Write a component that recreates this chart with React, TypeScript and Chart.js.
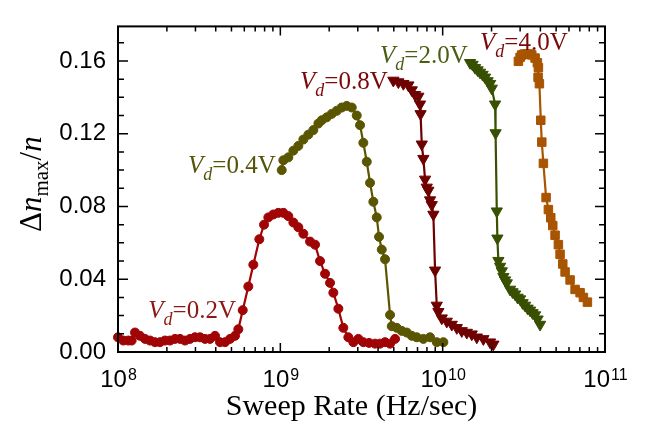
import React, { useEffect, useRef } from 'react';
import { Chart, registerables } from 'chart.js';

Chart.register(...registerables);

// ---- data (sweep rate in Hz/sec, Δn_max/n) ----
const rate02 = [1.0e8, 1.078e8, 1.157e8, 1.214e8, 1.273e8, 1.366e8, 1.467e8, 1.575e8, 1.69e8, 1.815e8, 1.948e8, 2.091e8, 2.245e8, 2.41e8, 2.587e8, 2.777e8, 2.981e8, 3.2e8, 3.436e8, 3.689e8, 3.96e8, 4.251e8, 4.564e8, 4.899e8, 5.259e8, 5.511e8, 5.865e8, 6.351e8, 6.818e8, 7.422e8, 7.937e8, 8.436e8, 9.055e8, 9.721e8, 1.044e9, 1.12e9, 1.203e9, 1.291e9, 1.386e9, 1.524e9, 1.636e9, 1.756e9, 1.886e9, 2.024e9, 2.121e9, 2.277e9, 2.444e9, 2.624e9, 2.817e9, 3.024e9, 3.246e9, 3.52e9, 3.832e9, 4.114e9, 4.416e9, 4.741e9, 5.09e9];
const dn02 = [0.0081, 0.0063, 0.0063, 0.0063, 0.0107, 0.0089, 0.0072, 0.0063, 0.0054, 0.0054, 0.0063, 0.0063, 0.0072, 0.0072, 0.0063, 0.0072, 0.0081, 0.0081, 0.0072, 0.0072, 0.0089, 0.0054, 0.0054, 0.0072, 0.0089, 0.0125, 0.023, 0.036, 0.048, 0.062, 0.07, 0.074, 0.0756, 0.0765, 0.0765, 0.0747, 0.0712, 0.0686, 0.065, 0.0607, 0.059, 0.05, 0.043, 0.038, 0.0326, 0.0238, 0.0133, 0.0081, 0.0054, 0.0072, 0.0054, 0.005, 0.0046, 0.0046, 0.0054, 0.0046, 0.0072];

const rate04 = [1.02e9, 1.044e9, 1.12e9, 1.203e9, 1.291e9, 1.386e9, 1.488e9, 1.597e9, 1.715e9, 1.799e9, 1.931e9, 2.073e9, 2.226e9, 2.389e9, 2.565e9, 2.754e9, 2.956e9, 3.098e9, 3.246e9, 3.407e9, 3.57e9, 3.741e9, 3.926e9, 4.056e9, 4.215e9, 4.416e9, 4.741e9, 4.857e9, 5.215e9, 5.598e9, 6.009e9, 6.451e9, 6.924e9, 7.604e9, 8.364e9, 9.197e9, 1.01e10];
const dn04 = [0.1, 0.1054, 0.107, 0.1107, 0.1133, 0.1168, 0.1195, 0.122, 0.1256, 0.1274, 0.129, 0.1309, 0.1326, 0.1344, 0.1353, 0.1344, 0.13, 0.1247, 0.115, 0.1046, 0.093, 0.0826, 0.074, 0.0633, 0.0563, 0.051, 0.0204, 0.0142, 0.0133, 0.0116, 0.0107, 0.0089, 0.0081, 0.0072, 0.0081, 0.0054, 0.0054];

const rate08 = [4.969e9, 5.335e9, 5.727e9, 6.148e9, 6.451e9, 6.76e9, 7.085e9, 7.256e9, 7.309e9, 7.435e9, 7.604e9, 7.79e9, 7.98e9, 8.163e9, 8.364e9, 8.566e9, 8.764e9, 8.978e9, 9.197e9, 9.408e9, 9.874e9, 1.06e10, 1.138e10, 1.222e10, 1.311e10, 1.408e10, 1.511e10, 1.623e10, 1.782e10, 1.959e10, 2.053e10];
const dn08 = [0.1493, 0.1484, 0.1475, 0.1467, 0.144, 0.1414, 0.1405, 0.1362, 0.1309, 0.1142, 0.1063, 0.0949, 0.0905, 0.0888, 0.0835, 0.0809, 0.0756, 0.0449, 0.0256, 0.0221, 0.0186, 0.0168, 0.0151, 0.0133, 0.0116, 0.0107, 0.0098, 0.0081, 0.0072, 0.0054, 0.0042];

const rate20 = [1.475e10, 1.529e10, 1.583e10, 1.641e10, 1.7e10, 1.762e10, 1.825e10, 1.891e10, 1.96e10, 2.007e10, 2.103e10, 2.118e10, 2.155e10, 2.173e10, 2.204e10, 2.258e10, 2.313e10, 2.366e10, 2.424e10, 2.483e10, 2.602e10, 2.696e10, 2.793e10, 2.894e10, 2.999e10, 3.107e10, 3.219e10, 3.336e10, 3.456e10, 3.581e10, 3.71e10, 3.844e10, 3.982e10];
const dn20 = [0.159, 0.158, 0.1563, 0.155, 0.1537, 0.1525, 0.151, 0.149, 0.1475, 0.1449, 0.1362, 0.1204, 0.0774, 0.0625, 0.0502, 0.047, 0.0445, 0.0414, 0.0395, 0.0379, 0.0344, 0.033, 0.0318, 0.03, 0.0291, 0.027, 0.0256, 0.024, 0.0229, 0.0215, 0.0203, 0.018, 0.0151];

const rate40 = [2.927e10, 2.999e10, 3.072e10, 3.174e10, 3.298e10, 3.408e10, 3.54e10, 3.71e10, 3.833e10, 3.888e10, 3.871e10, 3.943e10, 4.022e10, 4.08e10, 4.173e10, 4.336e10, 4.48e10, 4.634e10, 4.768e10, 4.926e10, 5.162e10, 5.288e10, 5.495e10, 5.678e10, 6.095e10, 6.543e10, 7.024e10, 7.362e10, 7.791e10];
const dn40 = [0.1598, 0.162, 0.1633, 0.1638, 0.1638, 0.1638, 0.1633, 0.1616, 0.159, 0.1563, 0.151, 0.1475, 0.1274, 0.1154, 0.1037, 0.0849, 0.0783, 0.0738, 0.0695, 0.0642, 0.059, 0.0537, 0.0484, 0.044, 0.0396, 0.0344, 0.0326, 0.03, 0.0274];

// axis ticks
const xDecades = [1e8, 1e9, 1e10, 1e11];
const xExponents = ['8', '9', '10', '11'];
const xMinorMultipliers = [2, 3, 4, 5, 6, 7, 8, 9];
const yMin = 0;
const yMax = 0.179;
const yMajorStep = 0.04;
const yMinorStep = 0.01;

// curve labels (V_d values) and their anchor points in data space
const labelTexts = ['0.2V', '0.4V', '0.8V', '2.0V', '4.0V'];
const labelRates = [1.537e8, 2.7e8, 1.322e9, 4.114e9, 1.7e10];
const labelDn = [0.0186, 0.0985, 0.1447, 0.159, 0.166];
const labelColors = ['#8c1a14', '#55530a', '#7a0808', '#4a5e14', '#7a0808'];

const SERIF = "'Liberation Serif', 'Times New Roman', serif";
const SANS = "'Liberation Sans', Arial, sans-serif";

type Part = { t: string; size: number; italic?: boolean; dy?: number };

function drawParts(ctx: CanvasRenderingContext2D, parts: Part[], x: number, y: number, align: 'left' | 'center') {
  const widths = parts.map((p) => {
    ctx.font = `${p.italic ? 'italic ' : ''}${p.size}px ${SERIF}`;
    return ctx.measureText(p.t).width;
  });
  const total = widths.reduce((a, b) => a + b, 0);
  let cx = align === 'center' ? x - total / 2 : x;
  ctx.textAlign = 'left';
  ctx.textBaseline = 'alphabetic';
  parts.forEach((p, i) => {
    ctx.font = `${p.italic ? 'italic ' : ''}${p.size}px ${SERIF}`;
    ctx.fillText(p.t, cx, y + (p.dy || 0));
    cx += widths[i];
  });
}

const decoPlugin = {
  id: 'deco',
  afterDraw(chart: any) {
    const { ctx, chartArea: a, scales } = chart;
    const xs = scales.x;
    const ys = scales.y;
    ctx.save();
    ctx.strokeStyle = '#000';
    ctx.fillStyle = '#000';
    ctx.lineWidth = 1.5;
    ctx.beginPath();
    // x ticks (bottom & top, inward)
    xDecades.forEach((d, i) => {
      const px = xs.getPixelForValue(d);
      ctx.moveTo(px, a.bottom);
      ctx.lineTo(px, a.bottom - 9);
      ctx.moveTo(px, a.top);
      ctx.lineTo(px, a.top + 9);
      if (i < xDecades.length - 1) {
        xMinorMultipliers.forEach((m) => {
          const p = xs.getPixelForValue(m * d);
          ctx.moveTo(p, a.bottom);
          ctx.lineTo(p, a.bottom - 5);
          ctx.moveTo(p, a.top);
          ctx.lineTo(p, a.top + 5);
        });
      }
    });
    // y ticks (left & right, inward)
    const nMinor = Math.floor((yMax - yMin) / yMinorStep + 1e-6);
    for (let i = 0; i <= nMinor; i++) {
      const v = yMin + i * yMinorStep;
      const py = ys.getPixelForValue(v);
      const major = Math.abs(v / yMajorStep - Math.round(v / yMajorStep)) < 1e-6;
      const len = major ? 10 : 6;
      ctx.moveTo(a.left, py);
      ctx.lineTo(a.left + len, py);
      ctx.moveTo(a.right, py);
      ctx.lineTo(a.right - len, py);
    }
    ctx.stroke();
    // frame
    ctx.lineWidth = 2;
    ctx.strokeRect(a.left, a.top, a.right - a.left, a.bottom - a.top);

    // x tick labels: 10^n
    xDecades.forEach((d, i) => {
      const px = xs.getPixelForValue(d);
      ctx.font = `24px ${SANS}`;
      const wb = ctx.measureText('10').width;
      ctx.font = `16px ${SANS}`;
      const ws = ctx.measureText(xExponents[i]).width;
      const x0 = px - (wb + ws) / 2;
      ctx.textAlign = 'left';
      ctx.textBaseline = 'alphabetic';
      ctx.font = `24px ${SANS}`;
      ctx.fillText('10', x0, a.bottom + 35);
      ctx.font = `16px ${SANS}`;
      ctx.fillText(xExponents[i], x0 + wb + 1, a.bottom + 28);
    });

    // x axis title
    ctx.font = `30px ${SERIF}`;
    ctx.textAlign = 'center';
    ctx.fillText('Sweep Rate (Hz/sec)', (a.left + a.right) / 2 - 10, a.bottom + 63);

    // y axis title (rotated)
    ctx.save();
    ctx.translate(41, (a.top + a.bottom) / 2 - 5);
    ctx.rotate(-Math.PI / 2);
    drawParts(
      ctx,
      [
        { t: 'Δ', size: 31 },
        { t: 'n', size: 31, italic: true },
        { t: 'max', size: 21, dy: 7 },
        { t: '/', size: 31 },
        { t: 'n', size: 31, italic: true },
      ],
      0,
      0,
      'center'
    );
    ctx.restore();

    // curve labels
    labelTexts.forEach((txt, i) => {
      const lx = xs.getPixelForValue(labelRates[i]);
      const ly = ys.getPixelForValue(labelDn[i]);
      ctx.fillStyle = labelColors[i];
      drawParts(
        ctx,
        [
          { t: 'V', size: 25, italic: true },
          { t: 'd', size: 18, italic: true, dy: 7 },
          { t: '=' + txt, size: 25 },
        ],
        lx,
        ly,
        'left'
      );
    });
    ctx.restore();
  },
};

function series(label: string, xsArr: number[], ysArr: number[], color: string, style: string, radius: number, rotation = 0) {
  return {
    label,
    data: xsArr.map((x, i) => ({ x, y: ysArr[i] })),
    showLine: true,
    borderColor: color,
    backgroundColor: color,
    borderWidth: 2.2,
    pointStyle: style,
    pointRadius: radius,
    pointRotation: rotation,
    pointBackgroundColor: color,
    pointBorderColor: color,
    pointBorderWidth: 1,
    tension: 0,
    clip: false,
  };
}

export default function App() {
  const ref = useRef<HTMLCanvasElement | null>(null);
  useEffect(() => {
    if (!ref.current) return;
    const chart = new Chart(ref.current, {
      type: 'scatter',
      data: {
        datasets: [
          series('0.2V', rate02, dn02, '#a00404', 'circle', 4.5),
          series('0.4V', rate04, dn04, '#5a5500', 'circle', 4.5),
          series('0.8V', rate08, dn08, '#6e0000', 'triangle', 6.5, 180),
          series('2.0V', rate20, dn20, '#385000', 'triangle', 6.5, 180),
          series('4.0V', rate40, dn40, '#a85400', 'rect', 6),
        ] as any,
      },
      options: {
        responsive: false,
        animation: false,
        devicePixelRatio: 1,
        layout: { padding: { left: 0, right: 42, top: 12, bottom: 0 } },
        plugins: { legend: { display: false }, tooltip: { enabled: false } },
        scales: {
          x: {
            type: 'logarithmic',
            min: xDecades[0],
            max: xDecades[xDecades.length - 1],
            ticks: { display: false },
            grid: { display: false, drawTicks: false },
            border: { display: false },
            afterFit: (s: any) => {
              s.height = 72;
            },
          },
          y: {
            type: 'linear',
            min: yMin,
            max: yMax,
            ticks: {
              stepSize: yMajorStep,
              includeBounds: false,
              padding: 12,
              color: '#000',
              font: { family: SANS, size: 24 },
              callback: (v: any) => Number(v).toFixed(2),
            },
            grid: { display: false, drawTicks: false },
            border: { display: false },
            afterFit: (s: any) => {
              s.width = 118;
            },
          },
        },
      } as any,
      plugins: [decoPlugin],
    });
    return () => chart.destroy();
  }, []);
  return (
    <div style={{ position: 'absolute', left: 0, top: 0, width: 647, height: 424, background: '#fff' }}>
      <canvas ref={ref} width={647} height={424} />
    </div>
  );
}
